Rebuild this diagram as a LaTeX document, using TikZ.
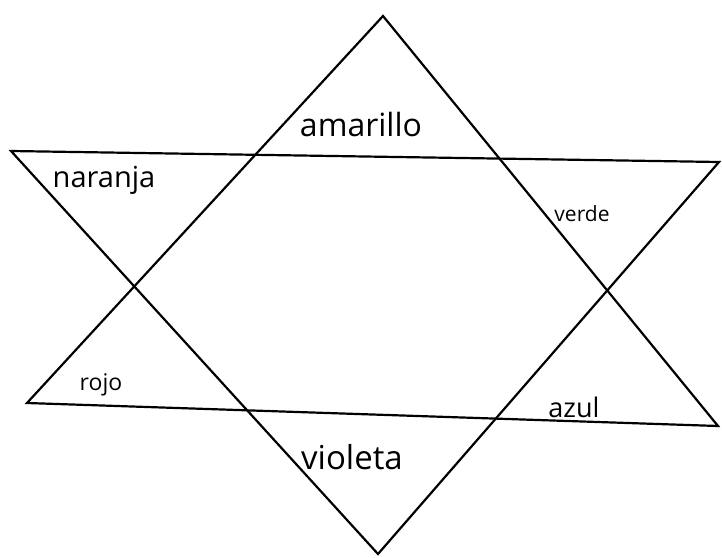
\documentclass[tikz,border=0pt]{standalone}
\usepackage{fontspec}
\setmainfont{Open Sans}
\usepackage{tikz}
\usetikzlibrary{positioning,calc}
\tikzset{
  star line/.style={line width=2.2pt, line join=miter},
  colour name/.style={font=\fontsize{#1}{#1}\selectfont, inner sep=0pt}
}

\begin{document}
\begin{tikzpicture}[x=1pt, y=-1pt]
    \useasboundingbox (0,0) rectangle (722,557);
    % upward triangle
    \coordinate (uptop)   at (383,16);
    \coordinate (upleft)  at (27,403);
    \coordinate (upright) at (718,426);
    % downward triangle
    \coordinate (downleft)  at (11,151);
    \coordinate (downright) at (719,162);
    \coordinate (downtip)   at (378,554);
    \draw[star line] (uptop) -- (upleft) -- (upright) -- cycle;
    \draw[star line] (downleft) -- (downright) -- (downtip) -- cycle;
    % colour names
    \node[colour name=32] (amarillo) at (361,124) {amarillo};
    \node[colour name=29] (naranja) at (104,180) {naranja};
    \node[colour name=21] (verde) at (582,214) {verde};
    \node[colour name=23] (rojo) at (101,385) {rojo};
    \node[colour name=27] (azul) at (574,407) {azul};
    \node[colour name=33] (violeta) at (352,457) {violeta};
\end{tikzpicture}
\end{document}
